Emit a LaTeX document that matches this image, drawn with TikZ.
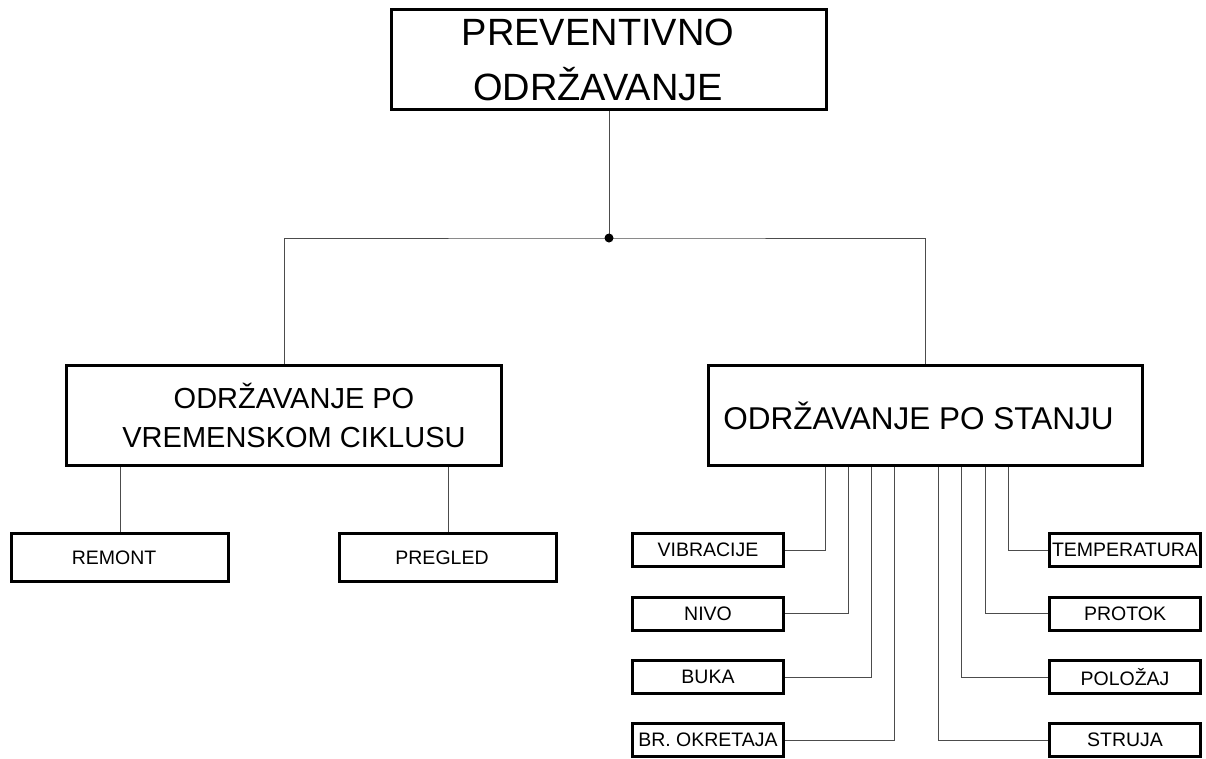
\documentclass[tikz,border=0pt]{standalone}
\usepackage{fontspec}
\setmainfont{Liberation Sans}
\tikzset{kutija/.style={draw,line width=3pt,inner sep=0pt,align=center},
         velika/.style={kutija,minimum width=435pt,minimum height=100pt},
         srednja/.style={kutija,minimum width=217pt,minimum height=48pt,font=\fontsize{19.5}{22}\selectfont},
         mala/.style={kutija,minimum width=151pt,minimum height=33pt,font=\fontsize{19.5}{22}\selectfont},
         veza/.style={line width=1pt,black!70}}

\begin{document}
\begin{tikzpicture}[x=1pt,y=-1pt]
                  \useasboundingbox (0,0) rectangle (1206,758);
                  \node[velika,font=\fontsize{38}{55}\selectfont] (prev) at (609,59.5) {PREVENTIVNO\hspace*{22pt}\\ODRŽAVANJE\hspace*{22pt}};
                  \node[velika,font=\fontsize{29}{39}\selectfont] (vrem) at (284,415.5) {\hspace*{20pt}ODRŽAVANJE PO\\\hspace*{20pt}VREMENSKOM CIKLUSU};
                  \node[velika,minimum width=434pt,font=\fontsize{31.5}{36}\selectfont] (stanje) at (925.5,415.5) {ODRŽAVANJE PO STANJU\hspace*{14pt}};
                  \node[srednja] (remont) at (120,557.5) {REMONT\hspace*{12pt}};
                  \node[srednja] (pregled) at (448,557.5) {PREGLED\hspace*{12pt}};
                  % parametri koji se prate
                  \foreach \ime/\tekst/\yy in {vib/VIBRACIJE/550, nivo/NIVO/613.5, buka/BUKA/677, okr/BR. OKRETAJA/740}
                      \node[mala] (\ime) at (708,\yy) {\tekst};
                  \foreach \ime/\tekst/\yy in {temp/TEMPERATURA/550, prot/PROTOK/613.5, pol/POLOŽAJ/677, str/STRUJA/740}
                      \node[mala] (\ime) at (1125,\yy) {\tekst};
                  \coordinate (spoj) at (609,238);
                  \draw[veza] (prev) -- (spoj);
                  \draw[veza] (vrem) |- (spoj) -| (stanje);
                  \fill (spoj) circle (4.5pt);
                  \draw[veza] (remont) -- (remont |- vrem.south);
                  \draw[veza] (pregled) -- (pregled |- vrem.south);
                  \foreach \ime/\xx in {vib/825, nivo/848, buka/871, okr/894, str/938, pol/961, prot/985, temp/1008}
                      \draw[veza] (stanje.south -| \xx,0) |- (\ime);
              \end{tikzpicture}
\end{document}
